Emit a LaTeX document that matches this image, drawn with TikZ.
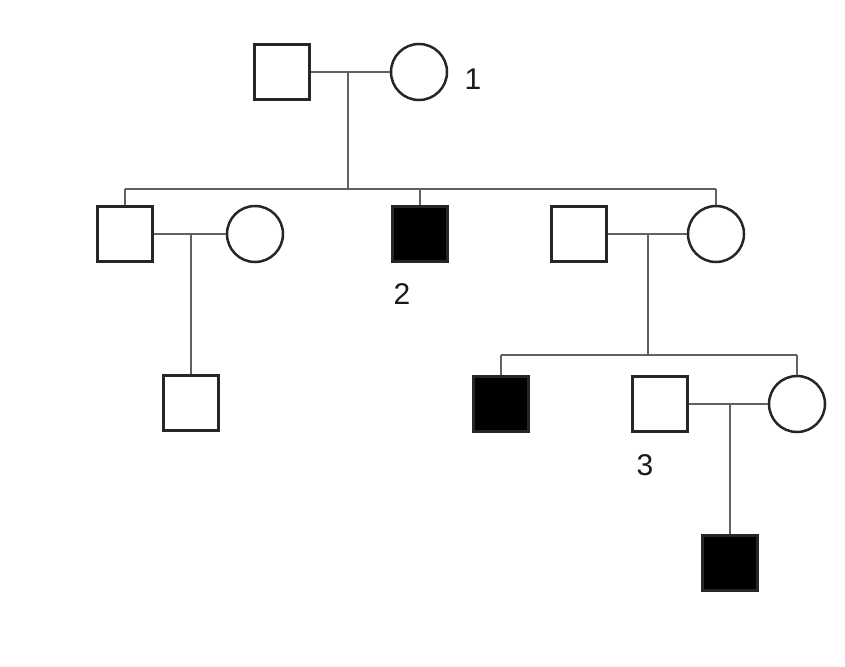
\documentclass[tikz,border=0pt]{standalone}
\usepackage{fontspec}
\setmainfont{Liberation Sans}
\begin{document}
\begin{tikzpicture}[x=1pt,y=-1pt,
  male/.style={draw=black!85,line width=2.5pt,fill=white,minimum size=55pt,inner sep=0pt,rectangle},
  aff/.style={male,fill=black},
  female/.style={draw=black!85,line width=2.5pt,fill=white,minimum size=56pt,inner sep=0pt,circle},
  conn/.style={draw=black!62,line width=2.6pt},
  lab/.style={font=\fontsize{30}{30}\selectfont,text=black!90,inner sep=0pt}]
\useasboundingbox[fill=white] (0,0) rectangle (845,666);
% generation 1
\node[male] (a) at (282,72) {};
\node[female] (b) at (419,72) {};
\node[lab] (l1) at (473,79) {1};
\coordinate (m1) at (348,72);
\coordinate (s1) at (348,189);
\coordinate (s1l) at (125,189);
\coordinate (s1r) at (716,189);
% generation 2
\node[male] (c) at (125,234) {};
\node[female] (d) at (255,234) {};
\node[aff] (e) at (420,234) {};
\node[lab] (l2) at (402,294) {2};
\node[male] (f) at (579,234) {};
\node[female] (g) at (716,234) {};
\coordinate (m2) at (191,234);
\coordinate (m3) at (648,234);
\coordinate (s3) at (648,355);
\coordinate (s3l) at (501,355);
\coordinate (s3r) at (797,355);
% generation 3
\node[male] (h) at (191,403) {};
\node[aff] (i) at (501,404) {};
\node[male] (j) at (660,404) {};
\node[female] (k) at (797,404) {};
\node[lab] (l3) at (645,465) {3};
\coordinate (m4) at (730,404);
% generation 4
\node[aff] (n) at (730,563) {};
% connectors
\draw[conn] (a) -- (b);
\draw[conn] (m1) -- (s1);
\draw[conn] (s1l) -- (s1r);
\draw[conn] (s1l) -- (c);
\draw[conn] (e.north |- s1l) -- (e);
\draw[conn] (s1r) -- (g);
\draw[conn] (c) -- (d);
\draw[conn] (m2) -- (h);
\draw[conn] (f) -- (g);
\draw[conn] (m3) -- (s3);
\draw[conn] (s3l) -- (s3r);
\draw[conn] (s3l) -- (i);
\draw[conn] (s3r) -- (k);
\draw[conn] (j) -- (k);
\draw[conn] (m4) -- (n);
\end{tikzpicture}
\end{document}
